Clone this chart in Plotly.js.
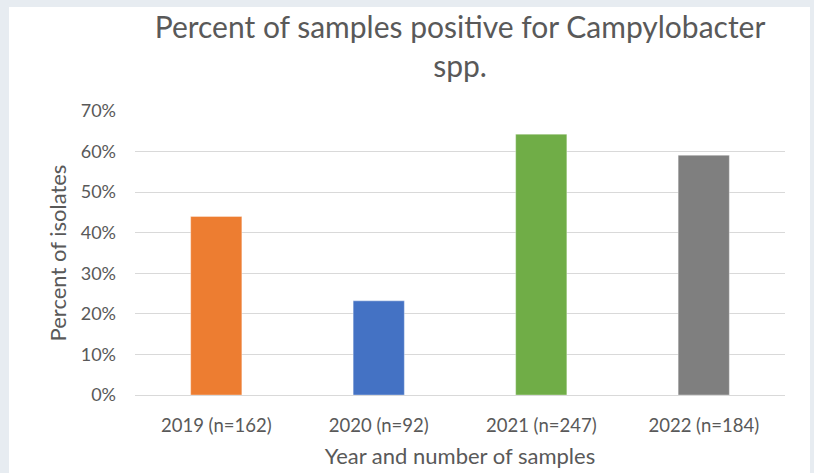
<!DOCTYPE html>
<html>
<head>
<meta charset="utf-8">
<script src="https://cdn.plot.ly/plotly-3.0.1.min.js"></script>
<style>
  html, body { margin: 0; padding: 0; background: #e7ecf1; width: 814px; height: 473px; overflow: hidden; }
  #chart { position: absolute; left: 9px; top: 7px; width: 801px; height: 466px; background: #ffffff; }
</style>
</head>
<body>
<div id="chart"></div>
<script>
const categories = ["2019 (n=162)", "2020 (n=92)", "2021 (n=247)", "2022 (n=184)"];
const percentPositive = [0.44, 0.232, 0.643, 0.591];
const barColors = ["#ED7D31", "#4472C4", "#70AD47", "#7F7F7F"];
const yTickValues = [0, 0.1, 0.2, 0.3, 0.4, 0.5, 0.6, 0.7];
const yTickLabels = ["0%", "10%", "20%", "30%", "40%", "50%", "60%", "70%"];

const fontFamily = "Lato, 'Open Sans', sans-serif";
const textColor = "#595959";

const trace = {
  type: "bar",
  x: categories,
  y: percentPositive,
  width: 0.315,
  marker: { color: barColors, line: { color: "rgba(255,255,255,0.35)", width: 1 } },
  hoverinfo: "skip"
};

const layout = {
  width: 801,
  height: 466,
  margin: { l: 126, r: 25, t: 103.5, b: 78 },
  paper_bgcolor: "#ffffff",
  plot_bgcolor: "#ffffff",
  showlegend: false,
  bargap: 0,
  font: { family: fontFamily, color: textColor },
  title: {
    text: "Percent of samples positive for Campylobacter<br>spp.",
    font: { family: fontFamily, size: 30, color: textColor },
    xref: "paper",
    x: 0.5,
    xanchor: "center",
    yref: "container",
    y: 0.934,
    yanchor: "top"
  },
  xaxis: {
    type: "category",
    showgrid: false,
    showline: false,
    zeroline: false,
    ticks: "",
    ticklabelstandoff: 17,
    tickfont: { family: fontFamily, size: 18.5, color: textColor },
    title: { text: "Year and number of samples", font: { family: fontFamily, size: 22, color: textColor }, standoff: 14 }
  },
  yaxis: {
    range: [0, 0.7],
    tickvals: yTickValues,
    ticktext: yTickLabels,
    showgrid: true,
    gridcolor: "#d9d9d9",
    gridwidth: 1,
    zeroline: true,
    zerolinecolor: "#d9d9d9",
    zerolinewidth: 1,
    showline: false,
    ticks: "",
    ticklabelstandoff: 18,
    tickfont: { family: fontFamily, size: 18, color: textColor },
    title: { text: "Percent of isolates", font: { family: fontFamily, size: 22, color: textColor }, standoff: 7 }
  }
};

Plotly.newPlot("chart", [trace], layout, { staticPlot: true, displayModeBar: false });
</script>
</body>
</html>
